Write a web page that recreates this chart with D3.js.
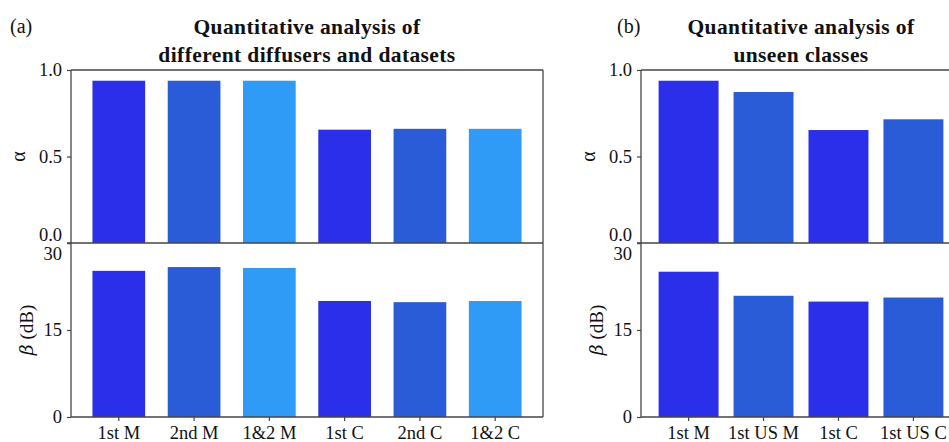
<!DOCTYPE html>
<html>
<head>
<meta charset="utf-8">
<script src="https://cdn.jsdelivr.net/npm/d3@7"></script>
<style>
  body { margin: 0; background: #fff; }
  svg { display: block; font-family: "Liberation Serif", "Times New Roman", serif; }
  .domain { display: none; }
  .tick line { stroke: #444; stroke-width: 1.2; }
  .tick text { font-family: "Liberation Serif", "Times New Roman", serif; font-size: 18.5px; fill: #111; }
</style>
</head>
<body>
<div id="chart"></div>
<script>
// panel (a)
const catsA = ["1st M", "2nd M", "1&2 M", "1st C", "2nd C", "1&2 C"]
const alphaA = [0.938, 0.938, 0.938, 0.655, 0.660, 0.660]
const betaA = [25.2, 25.85, 25.7, 20.0, 19.8, 20.0]
const colorsA = ["#2c2fe9", "#2a5cd8", "#309bf7", "#2c2fe9", "#2a5cd8", "#309bf7"]

// panel (b)
const catsB = ["1st M", "1st US M", "1st C", "1st US C"]
const alphaB = [0.938, 0.873, 0.653, 0.715]
const betaB = [25.05, 20.9, 19.9, 20.6]
const colorsB = ["#2c2fe9", "#2a5cd8", "#2c2fe9", "#2a5cd8"]

const alphaTicks = [0, 0.5, 1.0]
const betaTicks = [0, 15, 30]

const width = 949, height = 442
const svg = d3.select("#chart").append("svg")
  .attr("width", width).attr("height", height)

svg.append("rect").attr("width", width).attr("height", height).attr("fill", "#fff")

const yTop = 70, yMid = 243, yBot = 417
const lineColor = "#444"

function drawPanel(cfg) {
  const g = svg.append("g")
  const x = d3.scaleBand()
    .domain(cfg.cats)
    .range([cfg.x0, cfg.x1])
    .paddingInner(cfg.padIn)
    .paddingOuter(cfg.padOut)

  const yA = d3.scaleLinear().domain([0, 1]).range([yMid, yTop])
  const yB = d3.scaleLinear().domain([0, 30]).range([yBot, yMid])

  // upper bars
  g.selectAll(".barA").data(cfg.alpha).enter().append("rect")
    .attr("x", (d, i) => x(cfg.cats[i]))
    .attr("width", x.bandwidth())
    .attr("y", d => yA(d))
    .attr("height", d => yA(0) - yA(d))
    .attr("fill", (d, i) => cfg.colors[i])

  // lower bars
  g.selectAll(".barB").data(cfg.beta).enter().append("rect")
    .attr("x", (d, i) => x(cfg.cats[i]))
    .attr("width", x.bandwidth())
    .attr("y", d => yB(d))
    .attr("height", d => yB(0) - yB(d))
    .attr("fill", (d, i) => cfg.colors[i])

  // y axes
  const axA = g.append("g").attr("transform", `translate(${cfg.x0},0)`)
    .call(d3.axisLeft(yA).tickValues(alphaTicks).tickFormat(d3.format(".1f")).tickSize(4).tickPadding(5))
  axA.selectAll(".tick text").filter(d => d === 0).attr("dy", "-0.12em")

  const axB = g.append("g").attr("transform", `translate(${cfg.x0},0)`)
    .call(d3.axisLeft(yB).tickValues(betaTicks).tickSize(4).tickPadding(5))
  axB.selectAll(".tick text").filter(d => d === 30).attr("dy", "0.9em")

  // x axis
  g.append("g").attr("transform", `translate(0,${yBot})`)
    .call(d3.axisBottom(x).tickSize(4).tickPadding(5))

  // frame lines
  const xr = Math.min(cfg.x1, width + 2)
  const frame = g.append("g").attr("stroke", lineColor).attr("stroke-width", 1.3).attr("fill", "none")
  frame.append("line").attr("x1", cfg.x0).attr("x2", cfg.x0).attr("y1", yTop).attr("y2", yBot)
  frame.append("line").attr("x1", cfg.x0).attr("x2", xr).attr("y1", yTop).attr("y2", yTop)
  frame.append("line").attr("x1", cfg.x0 - 4).attr("x2", xr).attr("y1", yMid).attr("y2", yMid)
  frame.append("line").attr("x1", cfg.x0).attr("x2", xr).attr("y1", yBot).attr("y2", yBot)
  if (cfg.x1 <= width)
    frame.append("line").attr("x1", cfg.x1).attr("x2", cfg.x1).attr("y1", yTop).attr("y2", yBot)

  // y labels
  g.append("text")
    .attr("transform", `translate(${cfg.x0 - 46},${(yTop + yMid) / 2}) rotate(-90)`)
    .attr("text-anchor", "middle")
    .attr("font-size", 20)
    .attr("fill", "#111")
    .text("α")
  const bl = g.append("text")
    .attr("transform", `translate(${cfg.x0 - 38},${(yMid + yBot) / 2}) rotate(-90)`)
    .attr("text-anchor", "middle")
    .attr("font-size", 19)
    .attr("fill", "#111")
  bl.append("tspan").attr("font-style", "italic").attr("font-family", "DejaVu Serif").text("β")
  bl.append("tspan").text(" (dB)")

  // panel letter and title
  g.append("text").attr("x", cfg.letterX).attr("y", 33)
    .attr("font-size", 20).attr("fill", "#111").text(cfg.letter)
  const cx = (cfg.x0 + cfg.x1) / 2
  cfg.title.forEach((t, i) => {
    g.append("text").attr("x", cx).attr("y", 34 + i * 27.5)
      .attr("text-anchor", "middle")
      .attr("font-size", 21.5)
      .attr("font-weight", "bold")
      .attr("letter-spacing", "0.4px")
      .attr("fill", "#111")
      .text(t)
  })
}

drawPanel({
  cats: catsA, alpha: alphaA, beta: betaA, colors: colorsA,
  x0: 71, x1: 543, padIn: 0.3, padOut: 0.285,
  letter: "(a)", letterX: 10,
  title: ["Quantitative analysis of", "different diffusers and datasets"]
})

drawPanel({
  cats: catsB, alpha: alphaB, beta: betaB, colors: colorsB,
  x0: 641, x1: 961, padIn: 0.2, padOut: 0.235,
  letter: "(b)", letterX: 617,
  title: ["Quantitative analysis of", "unseen classes"]
})
</script>
</body>
</html>
